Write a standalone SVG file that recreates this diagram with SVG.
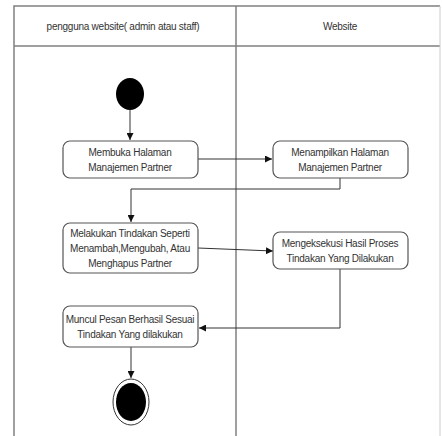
<svg xmlns="http://www.w3.org/2000/svg" width="442" height="436" viewBox="0 0 442 436">
<defs>
<style>
.lane{fill:none;stroke:#808080;stroke-width:1.5}
.box{fill:#fff;stroke:#555;stroke-width:1.2}
.t{font-family:"Liberation Sans",Arial,sans-serif;font-size:10px;fill:#333;text-anchor:middle;letter-spacing:-0.25px}
.c{fill:none;stroke:#333;stroke-width:1}
</style>
<marker id="ah" viewBox="0 0 10 10" refX="10" refY="5" markerWidth="7" markerHeight="7" orient="auto" markerUnits="userSpaceOnUse"><path d="M0,0 L10,5 L0,10 z" fill="#111"/></marker>
</defs>
<rect width="442" height="436" fill="#fff"/>
<g id="lanes">
<path class="lane" d="M14,436 V6 H440 M14,46 H440 M236,6 V436"/>
<path d="M440,6 V436" stroke="#ccc" stroke-width="1" fill="none"/>
<text class="t" x="123" y="30">pengguna website( admin atau staff)</text>
<text class="t" x="340" y="30">Website</text>
</g>
<g id="connectors">
<path class="c" d="M130,110 V140" marker-end="url(#ah)"/>
<path class="c" d="M198,159 H272" marker-end="url(#ah)"/>
<path class="c" d="M340,178 V189 H131 V222" marker-end="url(#ah)"/>
<path class="c" d="M198,248 L273,251" marker-end="url(#ah)"/>
<path class="c" d="M340,269 V328 H199" marker-end="url(#ah)"/>
<path class="c" d="M131,347 V378" marker-end="url(#ah)"/>
</g>
<g id="start"><ellipse cx="130" cy="94" rx="14" ry="16" fill="#000"/></g>
<g id="n1"><rect class="box" x="63" y="141" width="135" height="37" rx="7"/>
<text class="t" x="130" y="156">Membuka Halaman</text><text class="t" x="130" y="171">Manajemen Partner</text></g>
<g id="n2"><rect class="box" x="273" y="141" width="135" height="37" rx="7"/>
<text class="t" x="340" y="156">Menampilkan Halaman</text><text class="t" x="340" y="171">Manajemen Partner</text></g>
<g id="n3"><rect class="box" x="63" y="223" width="135" height="50" rx="7"/>
<text class="t" x="130" y="237">Melakukan Tindakan Seperti</text><text class="t" x="130" y="252">Menambah,Mengubah, Atau</text><text class="t" x="130" y="267">Menghapus Partner</text></g>
<g id="n4"><rect class="box" x="273" y="232" width="135" height="37" rx="7"/>
<text class="t" x="340" y="247">Mengeksekusi Hasil Proses</text><text class="t" x="340" y="262">Tindakan Yang Dilakukan</text></g>
<g id="n5"><rect class="box" x="63" y="306" width="135" height="41" rx="7"/>
<text class="t" x="130" y="323">Muncul Pesan Berhasil Sesuai</text><text class="t" x="130" y="338">Tindakan Yang dilakukan</text></g>
<g id="end"><ellipse cx="131" cy="402" rx="18" ry="23" fill="#fff" stroke="#333" stroke-width="1"/><ellipse cx="131" cy="402" rx="15" ry="19" fill="#000"/></g>
</svg>
